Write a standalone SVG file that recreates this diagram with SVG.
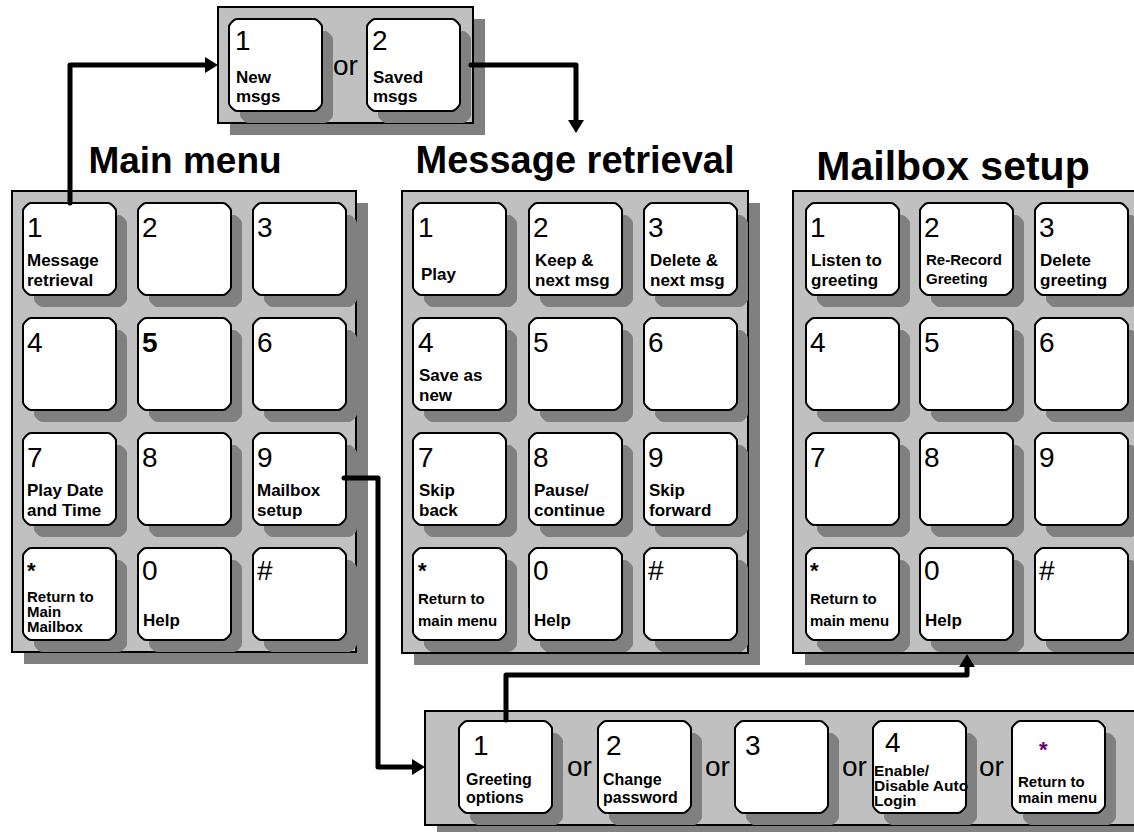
<svg xmlns="http://www.w3.org/2000/svg" xmlns:xlink="http://www.w3.org/1999/xlink" width="1134" height="832" viewBox="0 0 1134 832">
<style>
.pan{fill:#C0C0C0;stroke:#000;stroke-width:2}
.psh{fill:#808080}
.key{fill:#fff;stroke:#000;stroke-width:2}
.ksh{fill:#808080}
text{font-family:"Liberation Sans",Arial,sans-serif;fill:#000}
.d{font-size:28px}
.db{font-size:28px;font-weight:bold}
.l{font-size:17px;font-weight:bold}
.b{font-size:16px;font-weight:bold}
.s{font-size:15px;font-weight:bold}
.st{font-size:22px;font-weight:bold}
.t{font-size:37px;font-weight:bold}
.or{font-size:28px}
.con{fill:none;stroke:#000;stroke-width:5;stroke-linejoin:round;stroke-linecap:round}
</style>
<defs>
<path id="k" d="M8,0 H85 Q87,0 89,2 L91,4 Q93,6 93,8 V84 Q93,86 91,88 L89,90 Q87,92 85,92 H8 Q6,92 4,90 L2,88 Q0,86 0,84 V8 Q0,6 2,4 L4,2 Q6,0 8,0 Z"/>
<marker id="ah" markerUnits="userSpaceOnUse" markerWidth="14" markerHeight="16" refX="0" refY="8" orient="auto" viewBox="0 0 14 16">
<path d="M0,0 L13,8 L0,16 Z" fill="#000"/>
</marker>
</defs>
<rect width="1134" height="832" fill="#fff"/>

<!-- Titles -->
<g id="titles">
<text class="t" x="185" y="173" text-anchor="middle">Main menu</text>
<text class="t" x="575" y="173" text-anchor="middle" style="font-size:38px">Message retrieval</text>
<text class="t" x="953" y="180" text-anchor="middle" style="font-size:41px">Mailbox setup</text>
</g>

<!-- Top box -->
<g id="msgs">
<rect class="psh" x="230" y="19" width="255" height="116"/>
<rect class="pan" x="218" y="7" width="255" height="116"/>
<use xlink:href="#k" class="ksh" x="240" y="31"/>
<use xlink:href="#k" class="key" x="229" y="19"/>
<text class="d" x="235" y="50">1</text>
<text class="l" x="236" y="83">New</text>
<text class="l" x="236" y="102">msgs</text>
<text class="or" x="333" y="75">or</text>
<use xlink:href="#k" class="ksh" x="378" y="31"/>
<use xlink:href="#k" class="key" x="367" y="19"/>
<text class="d" x="372" y="50">2</text>
<text class="l" x="373" y="83">Saved</text>
<text class="l" x="373" y="102">msgs</text>
</g>

<!-- Main menu -->
<g id="main">
<rect class="psh" x="24" y="203" width="344" height="461"/>
<rect class="pan" x="12" y="191" width="344" height="461"/>
<use xlink:href="#k" class="ksh" x="34" y="215"/><use xlink:href="#k" class="ksh" x="149" y="215"/><use xlink:href="#k" class="ksh" x="264" y="215"/>
<use xlink:href="#k" class="ksh" x="34" y="330"/><use xlink:href="#k" class="ksh" x="149" y="330"/><use xlink:href="#k" class="ksh" x="264" y="330"/>
<use xlink:href="#k" class="ksh" x="34" y="445"/><use xlink:href="#k" class="ksh" x="149" y="445"/><use xlink:href="#k" class="ksh" x="264" y="445"/>
<use xlink:href="#k" class="ksh" x="34" y="560"/><use xlink:href="#k" class="ksh" x="149" y="560"/><use xlink:href="#k" class="ksh" x="264" y="560"/>
<use xlink:href="#k" class="key" x="23" y="203"/><use xlink:href="#k" class="key" x="138" y="203"/><use xlink:href="#k" class="key" x="253" y="203"/>
<use xlink:href="#k" class="key" x="23" y="318"/><use xlink:href="#k" class="key" x="138" y="318"/><use xlink:href="#k" class="key" x="253" y="318"/>
<use xlink:href="#k" class="key" x="23" y="433"/><use xlink:href="#k" class="key" x="138" y="433"/><use xlink:href="#k" class="key" x="253" y="433"/>
<use xlink:href="#k" class="key" x="23" y="548"/><use xlink:href="#k" class="key" x="138" y="548"/><use xlink:href="#k" class="key" x="253" y="548"/>
<text class="d" x="27" y="237">1</text>
<text class="l" x="27" y="266">Message</text>
<text class="l" x="27" y="286">retrieval</text>
<text class="d" x="142" y="237">2</text>
<text class="d" x="257" y="237">3</text>
<text class="d" x="27" y="352">4</text>
<text class="db" x="142" y="352">5</text>
<text class="d" x="257" y="352">6</text>
<text class="d" x="27" y="467">7</text>
<text class="l" x="27" y="496">Play Date</text>
<text class="l" x="27" y="516">and Time</text>
<text class="d" x="142" y="467">8</text>
<text class="d" x="257" y="467">9</text>
<text class="l" x="257" y="496">Mailbox</text>
<text class="l" x="257" y="516">setup</text>
<text class="st" x="27" y="578">*</text>
<text class="s" x="27" y="602">Return to</text>
<text class="s" x="27" y="617">Main</text>
<text class="s" x="27" y="632">Mailbox</text>
<text class="d" x="142" y="580">0</text>
<text class="l" x="143" y="626">Help</text>
<text class="d" x="257" y="580">#</text>
</g>

<!-- Message retrieval -->
<g id="retrieval">
<rect class="psh" x="414" y="203" width="346" height="462"/>
<rect class="pan" x="402" y="191" width="346" height="462"/>
<use xlink:href="#k" class="ksh" x="424" y="215"/><use xlink:href="#k" class="ksh" x="540" y="215"/><use xlink:href="#k" class="ksh" x="655" y="215"/>
<use xlink:href="#k" class="ksh" x="424" y="330"/><use xlink:href="#k" class="ksh" x="540" y="330"/><use xlink:href="#k" class="ksh" x="655" y="330"/>
<use xlink:href="#k" class="ksh" x="424" y="445"/><use xlink:href="#k" class="ksh" x="540" y="445"/><use xlink:href="#k" class="ksh" x="655" y="445"/>
<use xlink:href="#k" class="ksh" x="424" y="560"/><use xlink:href="#k" class="ksh" x="540" y="560"/><use xlink:href="#k" class="ksh" x="655" y="560"/>
<use xlink:href="#k" class="key" x="413" y="203"/><use xlink:href="#k" class="key" x="529" y="203"/><use xlink:href="#k" class="key" x="644" y="203"/>
<use xlink:href="#k" class="key" x="413" y="318"/><use xlink:href="#k" class="key" x="529" y="318"/><use xlink:href="#k" class="key" x="644" y="318"/>
<use xlink:href="#k" class="key" x="413" y="433"/><use xlink:href="#k" class="key" x="529" y="433"/><use xlink:href="#k" class="key" x="644" y="433"/>
<use xlink:href="#k" class="key" x="413" y="548"/><use xlink:href="#k" class="key" x="529" y="548"/><use xlink:href="#k" class="key" x="644" y="548"/>
<text class="d" x="418" y="237">1</text>
<text class="l" x="421" y="280">Play</text>
<text class="d" x="533" y="237">2</text>
<text class="l" x="535" y="266">Keep &amp;</text>
<text class="l" x="535" y="286">next msg</text>
<text class="d" x="648" y="237">3</text>
<text class="l" x="650" y="266">Delete &amp;</text>
<text class="l" x="650" y="286">next msg</text>
<text class="d" x="418" y="352">4</text>
<text class="l" x="419" y="381">Save as</text>
<text class="l" x="419" y="401">new</text>
<text class="d" x="533" y="352">5</text>
<text class="d" x="648" y="352">6</text>
<text class="d" x="418" y="467">7</text>
<text class="l" x="419" y="496">Skip</text>
<text class="l" x="419" y="516">back</text>
<text class="d" x="533" y="467">8</text>
<text class="l" x="534" y="496">Pause/</text>
<text class="l" x="534" y="516">continue</text>
<text class="d" x="648" y="467">9</text>
<text class="l" x="649" y="496">Skip</text>
<text class="l" x="649" y="516">forward</text>
<text class="st" x="418" y="578">*</text>
<text class="s" x="418" y="604">Return to</text>
<text class="s" x="418" y="626">main menu</text>
<text class="d" x="533" y="580">0</text>
<text class="l" x="534" y="626">Help</text>
<text class="d" x="648" y="580">#</text>
</g>

<!-- Mailbox setup -->
<g id="setup">
<rect class="psh" x="805" y="203" width="360" height="462"/>
<rect class="pan" x="793" y="191" width="360" height="462"/>
<use xlink:href="#k" class="ksh" x="817" y="215"/><use xlink:href="#k" class="ksh" x="931" y="215"/><use xlink:href="#k" class="ksh" x="1046" y="215"/>
<use xlink:href="#k" class="ksh" x="817" y="330"/><use xlink:href="#k" class="ksh" x="931" y="330"/><use xlink:href="#k" class="ksh" x="1046" y="330"/>
<use xlink:href="#k" class="ksh" x="817" y="445"/><use xlink:href="#k" class="ksh" x="931" y="445"/><use xlink:href="#k" class="ksh" x="1046" y="445"/>
<use xlink:href="#k" class="ksh" x="817" y="560"/><use xlink:href="#k" class="ksh" x="931" y="560"/><use xlink:href="#k" class="ksh" x="1046" y="560"/>
<use xlink:href="#k" class="key" x="806" y="203"/><use xlink:href="#k" class="key" x="920" y="203"/><use xlink:href="#k" class="key" x="1035" y="203"/>
<use xlink:href="#k" class="key" x="806" y="318"/><use xlink:href="#k" class="key" x="920" y="318"/><use xlink:href="#k" class="key" x="1035" y="318"/>
<use xlink:href="#k" class="key" x="806" y="433"/><use xlink:href="#k" class="key" x="920" y="433"/><use xlink:href="#k" class="key" x="1035" y="433"/>
<use xlink:href="#k" class="key" x="806" y="548"/><use xlink:href="#k" class="key" x="920" y="548"/><use xlink:href="#k" class="key" x="1035" y="548"/>
<text class="d" x="810" y="237">1</text>
<text class="l" x="811" y="266">Listen to</text>
<text class="l" x="811" y="286">greeting</text>
<text class="d" x="924" y="237">2</text>
<text class="s" x="926" y="265">Re-Record</text>
<text class="s" x="926" y="284">Greeting</text>
<text class="d" x="1039" y="237">3</text>
<text class="l" x="1040" y="266">Delete</text>
<text class="l" x="1040" y="286">greeting</text>
<text class="d" x="810" y="352">4</text>
<text class="d" x="924" y="352">5</text>
<text class="d" x="1039" y="352">6</text>
<text class="d" x="810" y="467">7</text>
<text class="d" x="924" y="467">8</text>
<text class="d" x="1039" y="467">9</text>
<text class="st" x="810" y="578">*</text>
<text class="s" x="810" y="604">Return to</text>
<text class="s" x="810" y="626">main menu</text>
<text class="d" x="924" y="580">0</text>
<text class="l" x="925" y="626">Help</text>
<text class="d" x="1039" y="580">#</text>
</g>

<!-- Bottom options bar -->
<g id="options">
<rect class="psh" x="437" y="723" width="720" height="114"/>
<rect class="pan" x="425" y="711" width="720" height="114"/>
<use xlink:href="#k" class="ksh" x="470" y="733"/><use xlink:href="#k" class="ksh" x="609" y="733"/><use xlink:href="#k" class="ksh" x="746" y="733"/><use xlink:href="#k" class="ksh" x="884" y="733"/><use xlink:href="#k" class="ksh" x="1023" y="733"/>
<use xlink:href="#k" class="key" x="459" y="721"/><use xlink:href="#k" class="key" x="598" y="721"/><use xlink:href="#k" class="key" x="735" y="721"/><use xlink:href="#k" class="key" x="873" y="721"/><use xlink:href="#k" class="key" x="1012" y="721"/>
<text class="d" x="473" y="755">1</text>
<text class="b" x="466" y="785">Greeting</text>
<text class="b" x="466" y="803">options</text>
<text class="or" x="567" y="776">or</text>
<text class="d" x="606" y="755">2</text>
<text class="b" x="603" y="785">Change</text>
<text class="b" x="603" y="803">password</text>
<text class="or" x="705" y="776">or</text>
<text class="d" x="745" y="755">3</text>
<text class="or" x="842" y="776">or</text>
<text class="d" x="885" y="752">4</text>
<text class="s" x="874" y="776" style="font-size:15.5px">Enable/</text>
<text class="s" x="874" y="791" style="font-size:15.5px">Disable Auto</text>
<text class="s" x="874" y="806" style="font-size:15.5px">Login</text>
<text class="or" x="979" y="776">or</text>
<text class="st" x="1039" y="757" style="fill:#660066">*</text>
<text class="s" x="1018" y="787">Return to</text>
<text class="s" x="1018" y="803">main menu</text>
</g>

<!-- Connectors -->
<g id="connectors">
<path class="con" d="M70,203 V65 H205" marker-end="url(#ah)"/>
<path class="con" d="M471,65 H576 V120" marker-end="url(#ah)"/>
<path class="con" d="M344,478 H378 V767 H412" marker-end="url(#ah)"/>
<path class="con" d="M506,720 V675 H967 V667" marker-end="url(#ah)"/>
</g>
</svg>
